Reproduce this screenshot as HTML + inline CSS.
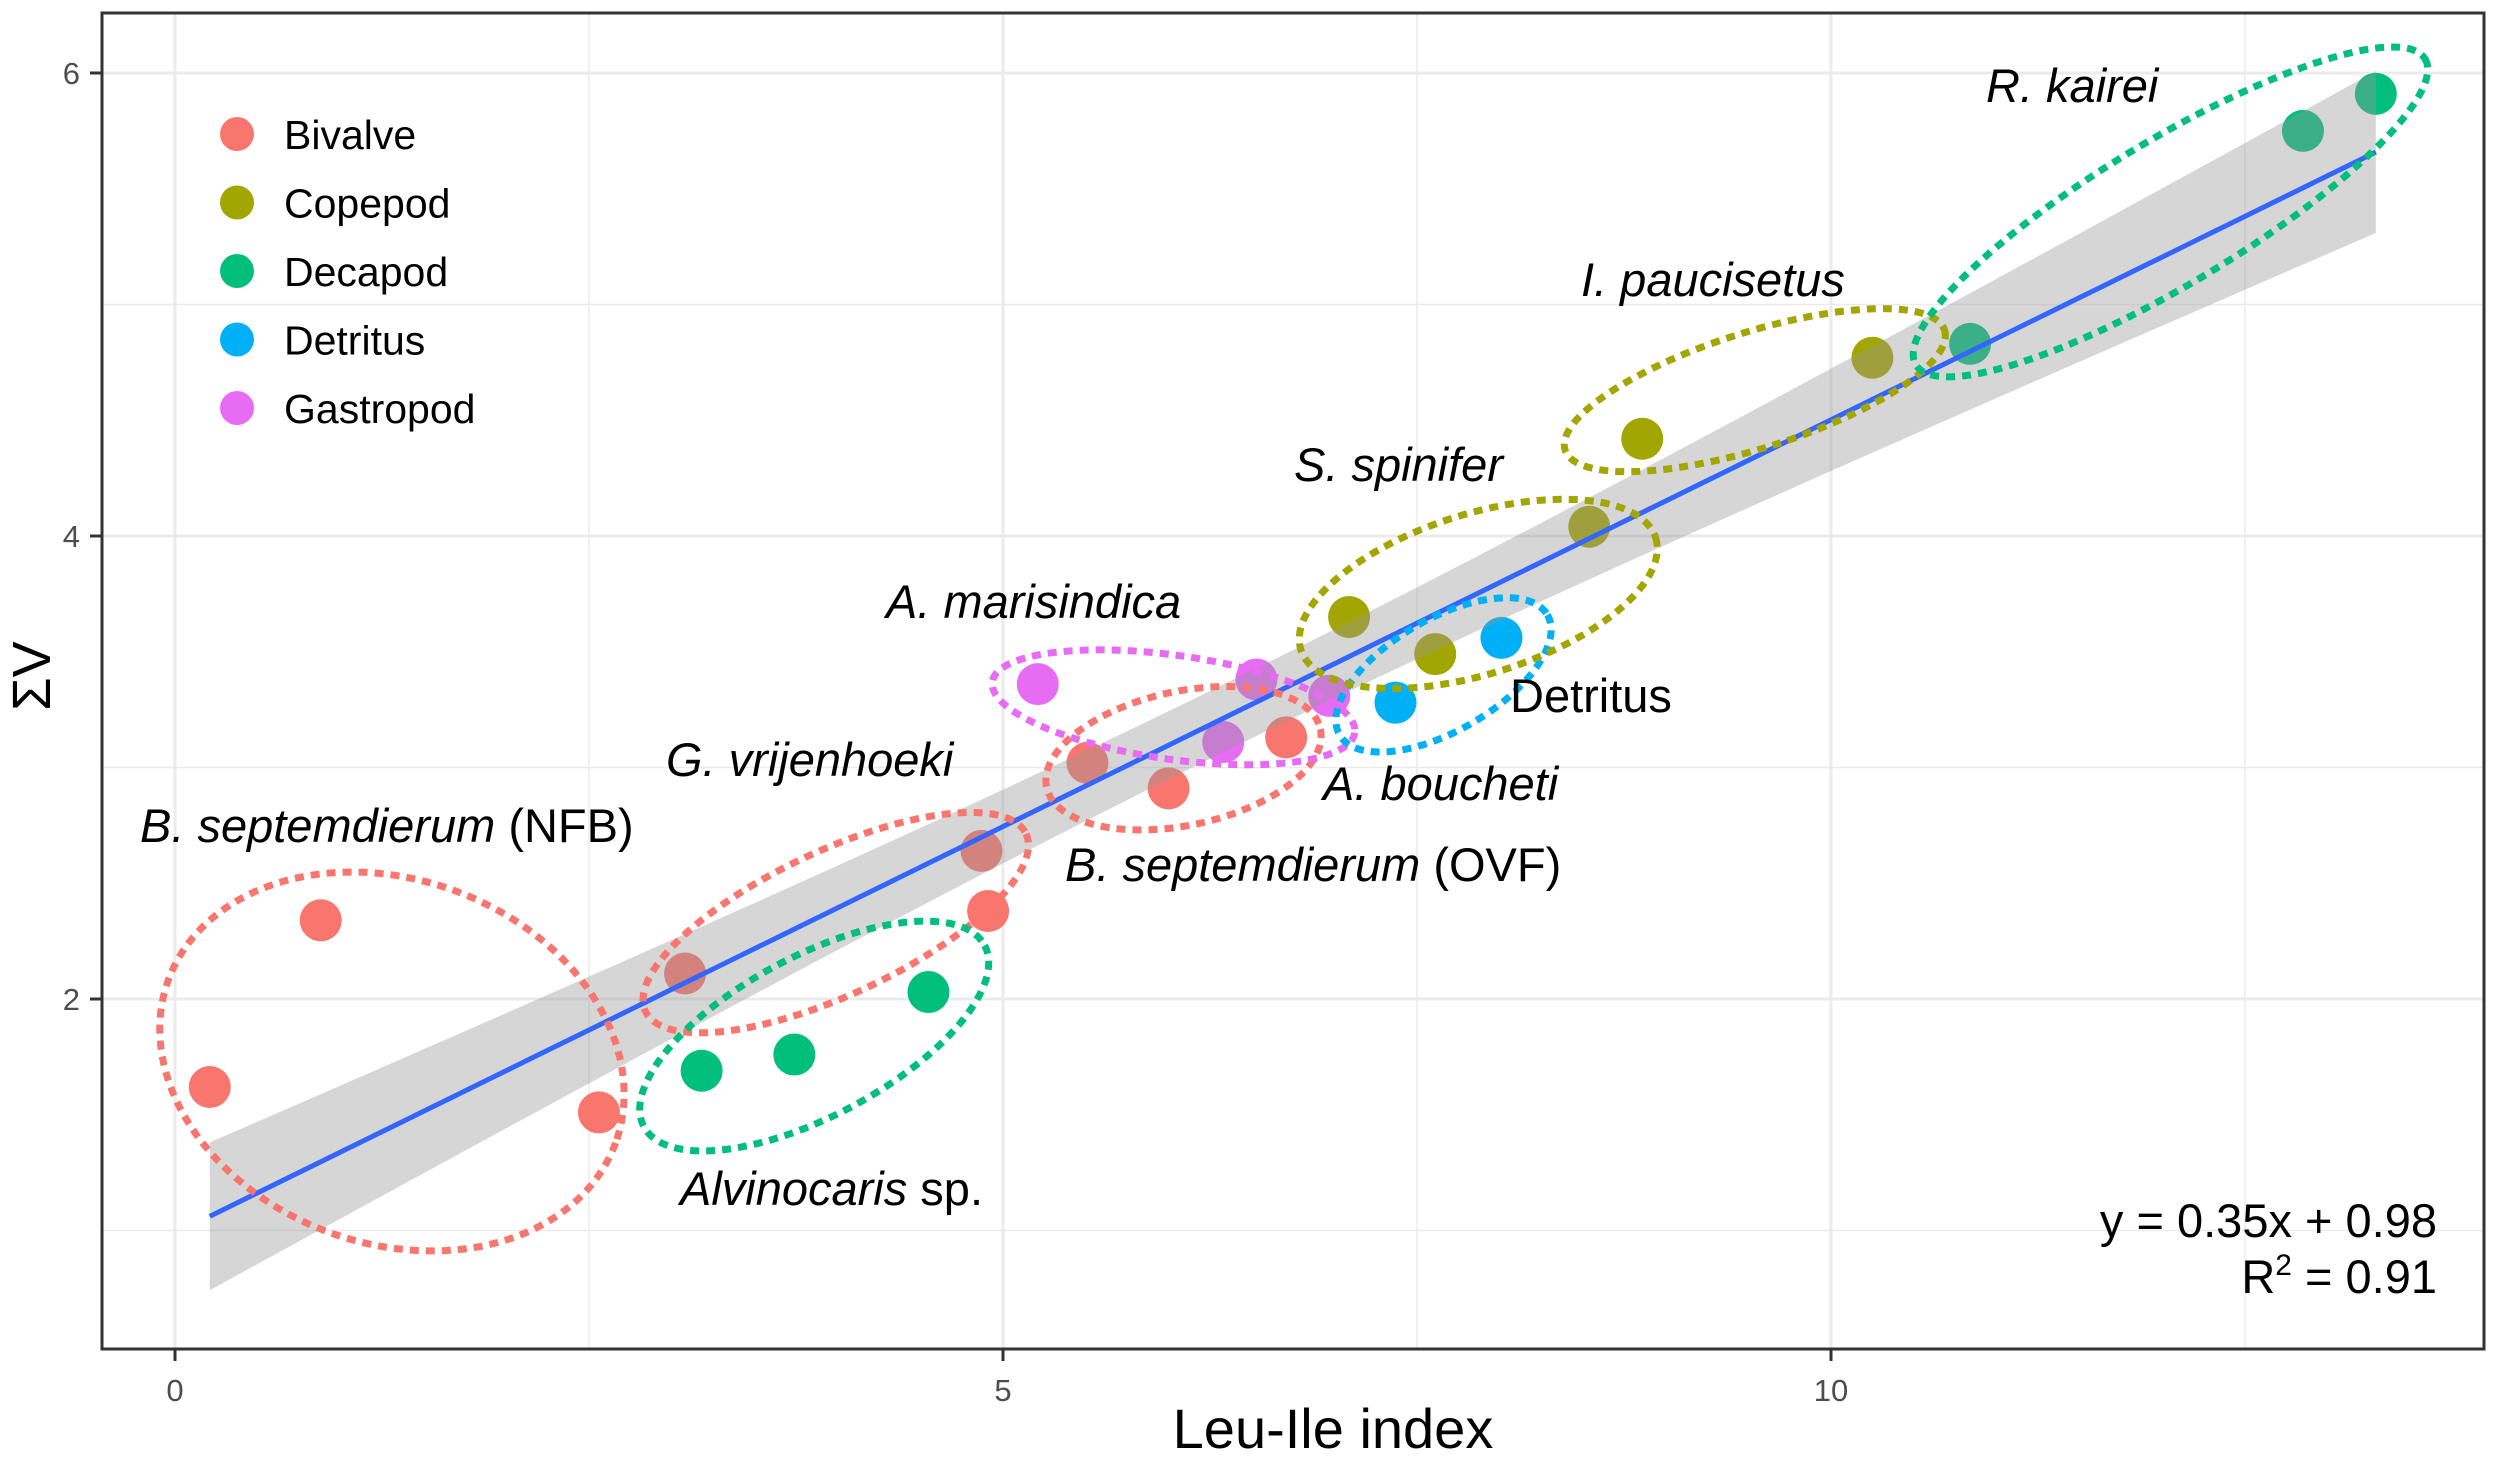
<!DOCTYPE html>
<html><head><meta charset="utf-8">
<style>
html,body{margin:0;padding:0;background:#fff;}
svg{display:block;font-family:"Liberation Sans",Arial,sans-serif;}
</style></head>
<body>
<svg id="chart" width="2500" height="1462" viewBox="0 0 2500 1462" xmlns="http://www.w3.org/2000/svg">
<rect x="0" y="0" width="2500" height="1462" fill="#fff"/>
<g id="grid"></g>
<g id="points"></g>
<g id="fit"></g>
<g id="ellipses"></g>
<g id="labels"></g>
<rect x="102" y="13" width="2382" height="1336" fill="none" stroke="#333" stroke-width="3"/>
<g id="axes"></g>
<g id="legend"></g>
<text x="1333" y="1448" font-size="56" text-anchor="middle" fill="#000">Leu-Ile index</text>
<text x="0" y="0" font-size="54" text-anchor="middle" fill="#000" transform="translate(50,676) rotate(-90)">ΣV</text>
<text x="2437" y="1237" font-size="47" text-anchor="end" fill="#000">y = 0.35x + 0.98</text>
<text x="2437" y="1293" font-size="47" text-anchor="end" fill="#000">R<tspan dy="-18" font-size="30">2</tspan><tspan dy="18"> = 0.91</tspan></text>
</svg>
<script>
const groups = ["Bivalve","Copepod","Decapod","Detritus","Gastropod"];
const groupColors = ["#F8766D","#A3A500","#00BF7D","#00B0F6","#E76BF3"];
const bivalveX = [0.21,0.88,2.56,3.08,4.87,4.91,5.51,6.00,6.71];
const bivalveY = [1.62,2.34,1.51,2.11,2.64,2.38,3.02,2.91,3.13];
const copepodX = [7.09,7.61,8.54,8.86,10.25];
const copepodY = [3.65,3.49,4.04,4.42,4.77];
const decapodX = [3.18,3.74,4.55,10.84,12.85,13.29];
const decapodY = [1.69,1.76,2.03,4.83,5.75,5.91];
const detritusX = [7.37,8.01];
const detritusY = [3.28,3.56];
const gastropodX = [5.21,6.33,6.53,6.97];
const gastropodY = [3.36,3.11,3.38,3.31];
const xTicks = [0,5,10];
const xMinor = [2.5,7.5,12.5];
const yTicks = [2,4,6];
const yMinor = [1,3,5];

const NS="http://www.w3.org/2000/svg";
const PL=102,PT=13,PR=2484,PB=1349;
function sx(v){return 175+v*165.6;}
function sy(v){return 73+(6-v)*231.5;}
function mk(tag,attrs,parent){const e=document.createElementNS(NS,tag);for(const k in attrs)e.setAttribute(k,attrs[k]);parent.appendChild(e);return e;}

const grid=document.getElementById('grid');
xMinor.forEach(v=>{const l=mk('line',{x1:sx(v),x2:sx(v),y1:PT,y2:PB,stroke:'#ebebeb','stroke-width':1.5},grid);

});
yMinor.forEach(v=>{const l=mk('line',{x1:PL,x2:PR,y1:sy(v),y2:sy(v),stroke:'#ebebeb','stroke-width':1.5},grid);

});
xTicks.forEach(v=>{const l=mk('line',{x1:sx(v),x2:sx(v),y1:PT,y2:PB,stroke:'#ebebeb','stroke-width':3},grid);

});
yTicks.forEach(v=>{const l=mk('line',{x1:PL,x2:PR,y1:sy(v),y2:sy(v),stroke:'#ebebeb','stroke-width':3},grid);

});

const axes=document.getElementById('axes');
xTicks.forEach(v=>{const t=mk('line',{x1:sx(v),x2:sx(v),y1:PB,y2:PB+12,stroke:'#333','stroke-width':3},axes);


const tx=mk('text',{x:sx(v),y:PB+52,'font-size':31,'text-anchor':'middle',fill:'#4d4d4d'},axes);
tx.textContent=v;

});
yTicks.forEach(v=>{const t=mk('line',{x1:PL-12,x2:PL,y1:sy(v),y2:sy(v),stroke:'#333','stroke-width':3},axes);


const tx=mk('text',{x:PL-22,y:sy(v)+11,'font-size':31,'text-anchor':'end',fill:'#4d4d4d'},axes);
tx.textContent=v;

});

const pts=document.getElementById('points');
const series=[[bivalveX,bivalveY],[copepodX,copepodY],[decapodX,decapodY],[detritusX,detritusY],[gastropodX,gastropodY]];
series.forEach((s,gi)=>{s[0].forEach((x,i)=>{const c=mk('circle',{cx:sx(x),cy:sy(s[1][i]),r:21,fill:groupColors[gi]},pts);

});});

const allX=[],allY=[];series.forEach(s=>{allX.push(...s[0]);allY.push(...s[1]);});
const n=allX.length;const mx=allX.reduce((a,b)=>a+b)/n,my=allY.reduce((a,b)=>a+b)/n;
let sxx=0,sxy=0;allX.forEach((x,i)=>{sxx+=(x-mx)**2;sxy+=(x-mx)*(allY[i]-my);});
const b=sxy/sxx,a=my-b*mx;let sse=0;allX.forEach((x,i)=>{sse+=(allY[i]-a-b*x)**2;});
const s=Math.sqrt(sse/(n-2));const tcrit=2.064;
const xmin=Math.min(...allX),xmax=Math.max(...allX);
const up=[],lo=[],mid=[];
for(let k=0;k<=80;k++){const x=xmin+(xmax-xmin)*k/80;const yh=a+b*x;const se=s*Math.sqrt(1/n+(x-mx)**2/sxx)*tcrit*0.97;
up.push(sx(x)+','+sy(yh+se));lo.unshift(sx(x)+','+sy(yh-se));mid.push(sx(x)+','+sy(yh));}
const fit=document.getElementById('fit');
const band=mk('polygon',{points:up.concat(lo).join(' '),fill:'#999',opacity:0.4},fit);


const fl=mk('polyline',{points:mid.join(' '),fill:'none',stroke:'#3366FF','stroke-width':5},fit);



const ellCx=[1.31,3.99,3.86,6.09,6.03,7.66,7.87,9.54,12.05];
const ellCy=[1.73,2.33,1.84,3.04,3.26,3.40,3.75,4.63,5.40];
const ell=[[238,182,20,0],[210,72,-25,0],[193,80,-28,2],[140,67,-12,0],[183,52,8,4],[120,56,-30,3],[186,80,-17.5,1],[199,58,-17.5,1],[297,72,-31,2]];
const eg=document.getElementById('ellipses');
ell.forEach((e,i)=>{const cx=sx(ellCx[i]),cy=sy(ellCy[i]);
const el=mk('ellipse',{cx:cx,cy:cy,rx:e[0],ry:e[1],transform:`rotate(${e[2]} ${cx} ${cy})`,fill:'none',stroke:groupColors[e[3]],'stroke-width':7,'stroke-dasharray':'9 7'},eg);

});

const lbl=[[1986,102,"R. kairei",""],[1581,296,"I. paucisetus",""],[1294,481,"S. spinifer",""],[886,618,"A. marisindica",""],[1510,712,"","Detritus"],[666,776,"G. vrijenhoeki",""],[1323,800,"A. boucheti",""],[140,842,"B. septemdierum"," (NFB)"],[1065,881,"B. septemdierum"," (OVF)"],[680,1205,"Alvinocaris"," sp."]];
const lg=document.getElementById('labels');
lbl.forEach(l=>{const t=mk('text',{x:l[0],y:l[1],'font-size':47,fill:'#000'},lg);
if(l[2]){const it=mk('tspan',{'font-style':'italic'},t);it.textContent=l[2];}
if(l[3]){const nt=mk('tspan',{},t);nt.textContent=l[3];}

});

const leg=document.getElementById('legend');
groups.forEach((g,i)=>{const y=134+i*68.5;
const c=mk('circle',{cx:237,cy:y,r:17,fill:groupColors[i]},leg);


const t=mk('text',{x:284,y:y+15,'font-size':41,fill:'#000'},leg);t.textContent=g;

});
</script>
</body></html>
